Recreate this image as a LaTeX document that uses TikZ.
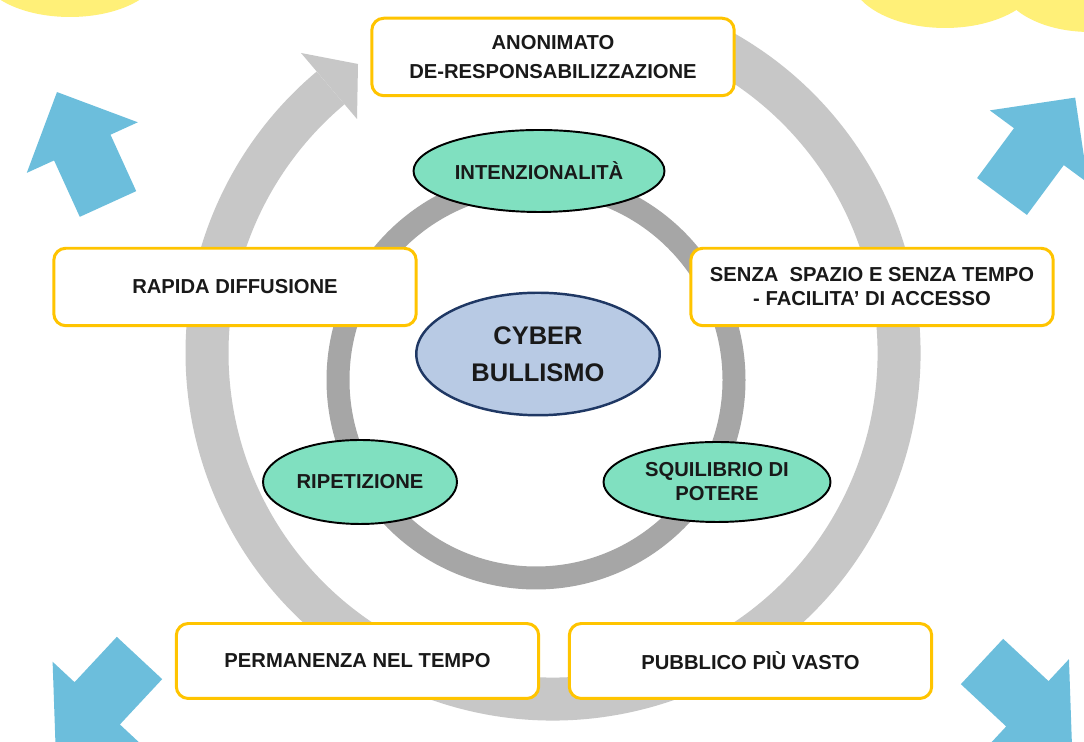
\documentclass[tikz,border=0pt]{standalone}
\usepackage{fontspec}
\setmainfont{Liberation Sans}
\usepackage{xcolor}
\usepackage{tikz}
\usetikzlibrary{shapes.geometric}

\definecolor{ringout}{RGB}{199,199,199}
\definecolor{ringin}{RGB}{166,166,166}
\definecolor{boxyellow}{RGB}{255,196,0}
\definecolor{ovalgreen}{RGB}{128,224,192}
\definecolor{cyberblue}{RGB}{184,202,228}
\definecolor{cybernavy}{RGB}{31,56,100}
\definecolor{arrowblue}{RGB}{108,190,220}
\definecolor{cloudyellow}{RGB}{255,240,120}

\begin{document}
\begin{tikzpicture}[x=0.02cm, y=0.02cm,
        box/.style={draw=boxyellow, line width=1.7pt, fill=white, rounded corners=0.24cm,
            minimum width=7.25cm, minimum height=1.55cm, inner sep=0pt, align=center,
            text=black!90, font=\fontsize{11.5}{13.6}\selectfont\bfseries},
        oval/.style={ellipse, draw=black, line width=1.1pt, fill=ovalgreen, inner sep=0pt,
            align=center, text=black!90, font=\fontsize{11.5}{13.6}\selectfont\bfseries}]
        \useasboundingbox (0,0) rectangle (1084,742);
        \clip (0,0) rectangle (1084,742);
        \fill[white] (0,0) rectangle (1084,742);
        \fill[cloudyellow] (70,772) ellipse[x radius=90, y radius=47];
        \fill[cloudyellow] (945,767) ellipse[x radius=95, y radius=53];
        \fill[cloudyellow] (1090,762) ellipse[x radius=90, y radius=52];
        \foreach \x/\y/\a in {108/538/114.5, 1002/545.5/53.5, 139.5/84/227, 982/80.5/-43}
            \fill[arrowblue, shift={(\x,\y)}, rotate=\a] (0,31) -- (62,31) -- (62,61) -- (123,0)
                -- (62,-61) -- (62,-31) -- (0,-31) -- cycle;
        \coordinate (c) at (553,389);
        \coordinate (ci) at (536,362);
        \draw[ringout, line width=0.86cm] (c) ++(64:346) arc[start angle=64, end angle=-230, radius=346];
        \fill[ringout] (301,689) -- (358,678) -- (357,623) -- cycle;
        \draw[ringin, line width=0.46cm] (ci) circle[radius=198];
        \node[box] (anon) at (553,685) {ANONIMATO\\[3.4pt]DE-RESPONSABILIZZAZIONE};
        \node[box] (rapida) at (235,455) {RAPIDA DIFFUSIONE};
        \node[box] (senza) at (872,455) {SENZA\ \ SPAZIO E SENZA TEMPO\\- FACILITA’ DI ACCESSO};
        \node[box, minimum height=1.5cm] (perm) at (357.5,81) {PERMANENZA NEL TEMPO};
        \node[box, minimum height=1.5cm] (pubb) at (750.5,81) {PUBBLICO PIÙ VASTO};
        \node[oval, minimum width=5.02cm, minimum height=1.64cm] (intenz) at (539,571) {INTENZIONALITÀ};
        \node[oval, draw=cybernavy, fill=cyberblue, line width=1.4pt, minimum width=4.87cm,
            minimum height=2.45cm, font=\fontsize{14.5}{21}\selectfont\bfseries] (cyber) at (538,388) {CYBER\\BULLISMO};
        \node[oval, minimum width=3.88cm, minimum height=1.68cm] (ripet) at (360,260) {RIPETIZIONE};
        \node[oval, minimum width=4.54cm, minimum height=1.6cm] (squil) at (717,260) {SQUILIBRIO DI\\POTERE};
\end{tikzpicture}
\end{document}
